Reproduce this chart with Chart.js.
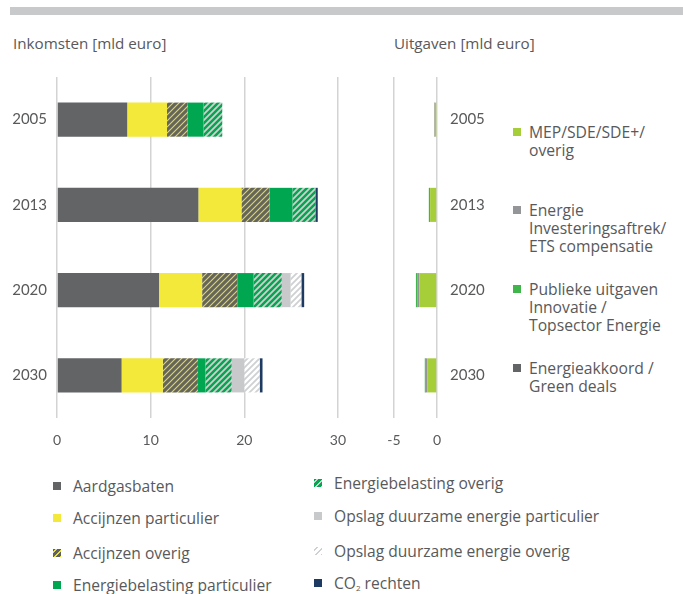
<!DOCTYPE html>
<html>
<head>
<meta charset="utf-8">
<script src="https://cdn.jsdelivr.net/npm/chart.js@4/dist/chart.umd.min.js"></script>
<style>
  html, body { margin: 0; padding: 0; background: #fff; }
  #wrap { position: relative; width: 683px; height: 594px; overflow: hidden; font-family: "Open Sans", Lato, sans-serif; color: #58595b; }
  .band { position: absolute; left: 10px; top: 7px; width: 673px; height: 8px; background: #c8c9cb; }
  .title { position: absolute; top: 32px; font-size: 15.2px; line-height: 22px; white-space: nowrap; }
  canvas { position: absolute; top: 0; }
  .lg { position: absolute; font-size: 15.6px; line-height: 18px; white-space: nowrap; }
  .lg.side { font-size: 15.7px; }
  .sw { position: absolute; width: 8px; height: 8px; }
  .hatch-acc { background: repeating-linear-gradient(135deg, #5f6062 0 2px, #e8e03a 2px 3px, #5f6062 3px 4.2px); }
  .hatch-eb { background: repeating-linear-gradient(135deg, #00a650 0 2px, #cfd2d0 2px 3.4px, #00a650 3.4px 4.2px); }
  .hatch-ops { background: repeating-linear-gradient(135deg, #fff 0 2px, #cfd0d2 2px 3.4px, #fff 3.4px 4.2px); }
  sub { font-size: 8px; vertical-align: -2px; }
</style>
</head>
<body>
<div id="wrap">
  <div class="band"></div>
  <div class="title" style="left:13px">Inkomsten [mld euro]</div>
  <div class="title" style="left:394px">Uitgaven [mld euro]</div>
  <canvas id="inkomsten" width="360" height="460" style="left:0"></canvas>
  <canvas id="uitgaven" width="130" height="460" style="left:370px"></canvas>
  <div id="legends"></div>
</div>
<script>
// Years shown on both panels
const years = ['2005', '2013', '2020', '2030'];

// Income [bn euro]
const aardgasbaten = [7.5, 15.1, 10.9, 6.9];
const accijnzenParticulier = [4.25, 4.6, 4.6, 4.4];
const accijnzenOverig = [2.2, 3.0, 3.75, 3.75];
const energiebelastingParticulier = [1.7, 2.45, 1.75, 0.8];
const energiebelastingOverig = [2.0, 2.45, 3.0, 2.8];
const opslagParticulier = [0, 0, 0.95, 1.35];
const opslagOverig = [0, 0, 1.15, 1.65];
const co2Rechten = [0, 0.25, 0.3, 0.3];

// Expenditure [bn euro]
const mepSde = [-0.25, -0.8, -2.05, -1.1];
const investeringsaftrek = [-0.08, 0, -0.2, -0.2];
const publiekeUitgaven = [0, -0.15, -0.2, -0.12];
const energieakkoord = [0, 0, 0, 0];

// Axis ticks
const incomeTicks = [0, 10, 20, 30];
const expenseTicks = [-5, 0];

const C = {
  gas: '#636466', yellow: '#f3e93a', green: '#00a650', lightGrey: '#c8c9cb',
  navy: '#1d3a63', lime: '#a6ce39', midGrey: '#949598', pubGreen: '#3fb54a',
  text: '#58595b'
};

function stripes(base, line, width) {
  const s = 6;
  const c = document.createElement('canvas');
  c.width = s; c.height = s;
  const g = c.getContext('2d');
  g.fillStyle = base; g.fillRect(0, 0, s, s);
  g.strokeStyle = line; g.lineWidth = width;
  g.beginPath();
  g.moveTo(-s, s); g.lineTo(s, -s);
  g.moveTo(0, 2 * s); g.lineTo(2 * s, 0);
  g.moveTo(0, s); g.lineTo(s, 0);
  g.stroke();
  return g.createPattern(c, 'repeat');
}

const ctx1 = document.getElementById('inkomsten').getContext('2d');
const patAcc = stripes(C.gas, '#e6dd3a', 1.1);
const patEb = stripes(C.green, '#cdd1ce', 1.8);
const patOps = stripes('#ffffff', '#cfd0d2', 1.8);

const tickFont = { family: 'Lato, "Open Sans", sans-serif', size: 14 };
const catFont = { family: 'Lato, "Open Sans", sans-serif', size: 15 };

const ds = (label, data, bg) => ({ label, data, backgroundColor: bg, borderWidth: 0 });

new Chart(ctx1, {
  type: 'bar',
  data: {
    labels: years,
    datasets: [
      ds('Aardgasbaten', aardgasbaten, C.gas),
      ds('Accijnzen particulier', accijnzenParticulier, C.yellow),
      ds('Accijnzen overig', accijnzenOverig, patAcc),
      ds('Energiebelasting particulier', energiebelastingParticulier, C.green),
      ds('Energiebelasting overig', energiebelastingOverig, patEb),
      ds('Opslag duurzame energie particulier', opslagParticulier, C.lightGrey),
      ds('Opslag duurzame energie overig', opslagOverig, patOps),
      ds('CO2 rechten', co2Rechten, C.navy)
    ]
  },
  options: {
    indexAxis: 'y', responsive: false, animation: false,
    layout: { padding: { top: 77, right: 8, left: 0, bottom: 0 } },
    plugins: { legend: { display: false }, tooltip: { enabled: false } },
    datasets: { bar: { categoryPercentage: 1, barPercentage: 0.4 } },
    scales: {
      x: {
        stacked: true, min: incomeTicks[0], max: incomeTicks[incomeTicks.length - 1],
        afterBuildTicks: s => { s.ticks = incomeTicks.map(v => ({ value: v })); },
        ticks: { padding: 14, color: C.text, font: tickFont },
        grid: { color: '#d3d3d3', lineWidth: 1.5, drawTicks: false },
        border: { display: false },
        afterFit: s => { s.height = 42; }
      },
      y: {
        stacked: true,
        grid: { display: false, drawTicks: false }, border: { display: false },
        ticks: { padding: 10, color: C.text, font: catFont },
        afterFit: s => { s.width = 57; }
      }
    }
  }
});

const ctx2 = document.getElementById('uitgaven').getContext('2d');
new Chart(ctx2, {
  type: 'bar',
  data: {
    labels: years,
    datasets: [
      ds('MEP/SDE/SDE+/overig', mepSde, C.lime),
      ds('Energie Investeringsaftrek/ETS compensatie', investeringsaftrek, C.midGrey),
      ds('Publieke uitgaven Innovatie / Topsector Energie', publiekeUitgaven, C.pubGreen),
      ds('Energieakkoord / Green deals', energieakkoord, C.gas)
    ]
  },
  options: {
    indexAxis: 'y', responsive: false, animation: false,
    layout: { padding: { top: 77, right: 0, left: 24, bottom: 0 } },
    plugins: { legend: { display: false }, tooltip: { enabled: false } },
    datasets: { bar: { categoryPercentage: 1, barPercentage: 0.4 } },
    scales: {
      x: {
        stacked: true, min: expenseTicks[0], max: expenseTicks[expenseTicks.length - 1],
        afterBuildTicks: s => { s.ticks = expenseTicks.map(v => ({ value: v })); },
        ticks: { padding: 14, color: C.text, font: tickFont },
        grid: { color: '#d3d3d3', lineWidth: 1.5, drawTicks: false },
        border: { display: false },
        afterFit: s => { s.height = 42; }
      },
      y: {
        stacked: true, position: 'right',
        grid: { display: false, drawTicks: false }, border: { display: false },
        ticks: { padding: 13, color: C.text, font: catFont },
        afterFit: s => { s.width = 63; }
      }
    }
  }
});

// Legends
const legendItems = [
  // right-hand column
  { x: 513, y: 123, side: true, sw: C.lime, lines: ['MEP/SDE/SDE+/', 'overig'] },
  { x: 513, y: 201, side: true, sw: C.midGrey, lines: ['Energie', 'Investeringsaftrek/', 'ETS compensatie'] },
  { x: 513, y: 280, side: true, sw: C.pubGreen, lines: ['Publieke uitgaven', 'Innovatie /', 'Topsector Energie'] },
  { x: 513, y: 359, side: true, sw: C.gas, lines: ['Energieakkoord /', 'Green deals'] },
  // bottom, first column
  { x: 53, y: 477, sw: C.gas, lines: ['Aardgasbaten'] },
  { x: 53, y: 509, sw: C.yellow, lines: ['Accijnzen particulier'] },
  { x: 53, y: 544, cls: 'hatch-acc', lines: ['Accijnzen overig'] },
  { x: 53, y: 576, sw: C.green, lines: ['Energiebelasting particulier'] },
  // bottom, second column
  { x: 314, y: 474, cls: 'hatch-eb', lines: ['Energiebelasting overig'] },
  { x: 314, y: 507, sw: C.lightGrey, lines: ['Opslag duurzame energie particulier'] },
  { x: 314, y: 542, cls: 'hatch-ops', lines: ['Opslag duurzame energie overig'] },
  { x: 314, y: 574, sw: C.navy, lines: ['CO<sub>2</sub> rechten'] }
];
const host = document.getElementById('legends');
legendItems.forEach(it => {
  const sw = document.createElement('div');
  sw.className = 'sw' + (it.cls ? ' ' + it.cls : '');
  if (it.sw) sw.style.background = it.sw;
  sw.style.left = it.x + 'px';
  sw.style.top = (it.y + 5) + 'px';
  host.appendChild(sw);
  const t = document.createElement('div');
  t.className = 'lg' + (it.side ? ' side' : '');
  t.style.left = (it.x + (it.side ? 16 : 20)) + 'px';
  t.style.top = it.y + 'px';
  t.innerHTML = it.lines.join('<br>');
  host.appendChild(t);
});
</script>
</body>
</html>
